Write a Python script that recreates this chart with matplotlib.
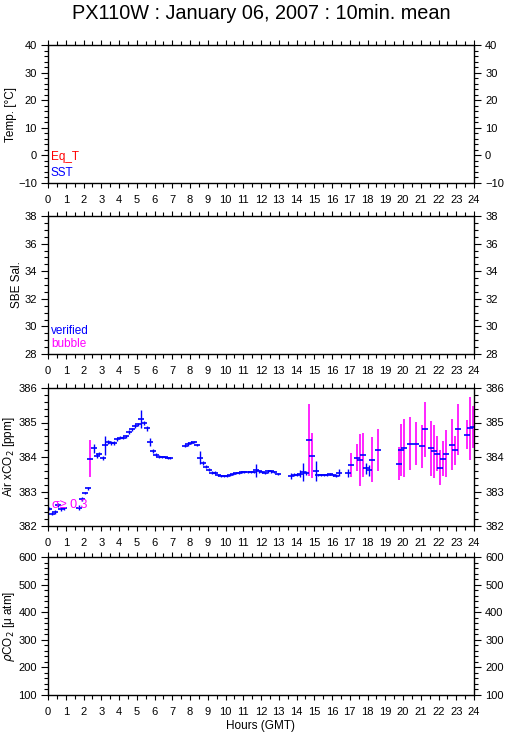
import matplotlib
matplotlib.use("Agg")
import matplotlib.pyplot as plt
from matplotlib.ticker import MultipleLocator
import numpy as np

plt.rcParams['font.family'] = ['Liberation Sans', 'DejaVu Sans']

title = "PX110W : January 06, 2007 : 10min. mean"

# Air xCO2 10-min means: hour (GMT), value (ppm), std (ppm)
hours = [0.04, 0.23, 0.39, 0.54, 0.73, 0.92, 1.73, 1.90, 2.07, 2.23, 2.38, 2.57, 2.74, 2.89, 3.08,
         3.23, 3.40, 3.57, 3.74, 3.89, 4.06, 4.23, 4.39, 4.56, 4.73, 4.90, 5.05, 5.24, 5.41, 5.58,
         5.75, 5.90, 6.08, 6.25, 6.42, 6.57, 6.74, 6.89,
         7.74, 7.91, 8.08, 8.24, 8.41, 8.57, 8.73, 8.90, 9.07, 9.24, 9.41, 9.57, 9.74, 9.91,
         10.07, 10.24, 10.41, 10.57, 10.74, 10.91, 11.07, 11.24, 11.41, 11.58, 11.74, 11.91,
         12.08, 12.25, 12.42, 12.59, 12.76, 12.93,
         13.71, 13.86, 14.03, 14.20, 14.37, 14.56, 14.73, 14.90, 15.08, 15.23, 15.40, 15.57,
         15.74, 15.91, 16.06, 16.23, 16.40,
         16.90, 17.07, 17.41, 17.58, 17.73, 17.90, 18.07, 18.24, 18.57,
         19.76, 19.91, 20.08, 20.41, 20.73, 21.07, 21.24, 21.58, 21.74, 21.91, 22.08, 22.23,
         22.40, 22.74, 22.91, 23.08, 23.58, 23.75, 23.92]
xco2 = [382.50, 382.36, 382.41, 382.61, 382.48, 382.51, 382.53, 382.78, 382.96, 383.09, 383.95, 384.25,
        384.04, 384.10, 383.98, 384.34, 384.43, 384.41, 384.41, 384.51, 384.56, 384.56, 384.60, 384.72,
        384.80, 384.89, 384.95, 385.10, 384.98, 384.83, 384.43, 384.17, 384.07, 384.01, 384.01, 384.00,
        383.98, 383.98,
        384.33, 384.38, 384.42, 384.43, 384.36, 383.98, 383.83, 383.72, 383.63, 383.54, 383.54, 383.49,
        383.46, 383.46, 383.46, 383.48, 383.50, 383.53, 383.53, 383.56, 383.56, 383.56, 383.56, 383.56,
        383.62, 383.58, 383.56, 383.54, 383.58, 383.58, 383.56, 383.51,
        383.45, 383.49, 383.49, 383.51, 383.56, 383.54, 384.50, 384.04, 383.60, 383.48, 383.48, 383.48,
        383.48, 383.51, 383.48, 383.46, 383.54,
        383.54, 383.77, 383.98, 383.92, 384.07, 383.67, 383.61, 383.92, 384.21,
        383.81, 384.20, 384.26, 384.39, 384.39, 384.31, 384.80, 384.25, 384.16, 384.09, 383.69, 383.95,
        384.10, 384.36, 384.19, 384.80, 384.65, 384.83, 384.87]
xco2_std = [0.05, 0.05, 0.05, 0.05, 0.04, 0.04, 0.08, 0.05, 0.04, 0.05, 0.53, 0.12,
            0.08, 0.05, 0.06, 0.27, 0.05, 0.05, 0.05, 0.04, 0.04, 0.04, 0.04, 0.05,
            0.05, 0.06, 0.05, 0.26, 0.06, 0.08, 0.12, 0.05, 0.05, 0.04, 0.03, 0.03,
            0.03, 0.03,
            0.05, 0.05, 0.04, 0.03, 0.03, 0.18, 0.05, 0.05, 0.05, 0.04, 0.04, 0.03,
            0.03, 0.03, 0.03, 0.03, 0.03, 0.03, 0.03, 0.03, 0.03, 0.03, 0.03, 0.03,
            0.19, 0.04, 0.03, 0.03, 0.04, 0.04, 0.03, 0.03,
            0.08, 0.05, 0.04, 0.10, 0.27, 0.05, 1.05, 0.66, 0.29, 0.04, 0.03, 0.03,
            0.03, 0.04, 0.03, 0.04, 0.10,
            0.12, 0.36, 0.40, 0.75, 0.64, 0.15, 0.17, 0.65, 0.61,
            0.48, 0.75, 0.83, 0.76, 0.63, 0.63, 0.80, 0.79, 0.77, 0.51, 0.50, 0.50,
            0.67, 0.75, 0.41, 0.73, 0.42, 0.91, 0.62]
sigma_limit = 0.3

hour_ticks = list(range(0, 25))
panel_ylabels = ["Temp. [°C]", "SBE Sal.", "Air xCO$_2$ [ppm]", "$\\rho$CO$_2$ [μ atm]"]
panel_ylims = [(-10, 40), (28, 38), (382, 386), (100, 600)]
panel_major = [10, 2, 1, 100]
panel_minor = [2, 0.5, 0.2, 20]

fig = plt.figure(figsize=(5.09, 7.39), dpi=100)
left, width = 48 / 509, 426 / 509
tops = [45, 216, 388, 557]
h_px = 138
axes = []
for i, top in enumerate(tops):
    ax = fig.add_axes([left, 1 - (top + h_px) / 739, width, h_px / 739])
    ax.set_xlim(0, 24)
    ax.set_ylim(*panel_ylims[i])
    ax.xaxis.set_minor_locator(MultipleLocator(0.5))
    ax.yaxis.set_major_locator(MultipleLocator(panel_major[i]))
    ax.yaxis.set_minor_locator(MultipleLocator(panel_minor[i]))
    ax.set_xticks(hour_ticks)
    ax.set_xticklabels([str(t) for t in hour_ticks])
    ax.tick_params(axis='both', which='both', direction='out', top=True, right=True,
                   labelright=True, labelsize=8, width=0.8, colors='black')
    ax.tick_params(axis='y', which='major', length=5, pad=3)
    ax.tick_params(axis='y', which='minor', length=3)
    ax.tick_params(axis='x', which='major', length=3.5, pad=5)
    ax.tick_params(axis='x', which='minor', length=3)
    ax.set_ylabel(panel_ylabels[i], fontsize=8.5, labelpad=1)
    for s in ax.spines.values():
        s.set_linewidth(1.0)
    axes.append(ax)

fig.text(0.513, 0.982, title, ha='center', va='center', fontsize=14.3)

# Panel 1 legend
axes[0].text(0.007, 0.19, "Eq_T", color='red', fontsize=8.5, transform=axes[0].transAxes, va='center')
axes[0].text(0.007, 0.075, "SST", color='blue', fontsize=8.5, transform=axes[0].transAxes, va='center')
# Panel 2 legend
axes[1].text(0.007, 0.17, "verified", color='blue', fontsize=8.5, transform=axes[1].transAxes, va='center')
axes[1].text(0.007, 0.075, "bubble", color='magenta', fontsize=8.5, transform=axes[1].transAxes, va='center')

# Panel 3 xCO2: vertical bars = std, magenta where std >= 0.3
ax = axes[2]
h = np.array(hours)
v = np.array(xco2)
s = np.array(xco2_std)
flag = s >= sigma_limit
ax.errorbar(h[~flag], v[~flag], yerr=s[~flag], fmt='none', ecolor='blue', elinewidth=1.0, capsize=0)
ax.errorbar(h[flag], v[flag], yerr=s[flag], fmt='none', ecolor='magenta', elinewidth=1.2, capsize=0)
ax.plot(h, v, linestyle='none', marker='_', markersize=5, markeredgewidth=1.2, color='blue')
ax.text(0.01, 0.155, "σ≥ 0.3", color='magenta', fontsize=9, transform=ax.transAxes, va='center')

axes[3].set_xlabel("Hours (GMT)", fontsize=8.5, labelpad=2)

fig.savefig("out.png", dpi=100)
